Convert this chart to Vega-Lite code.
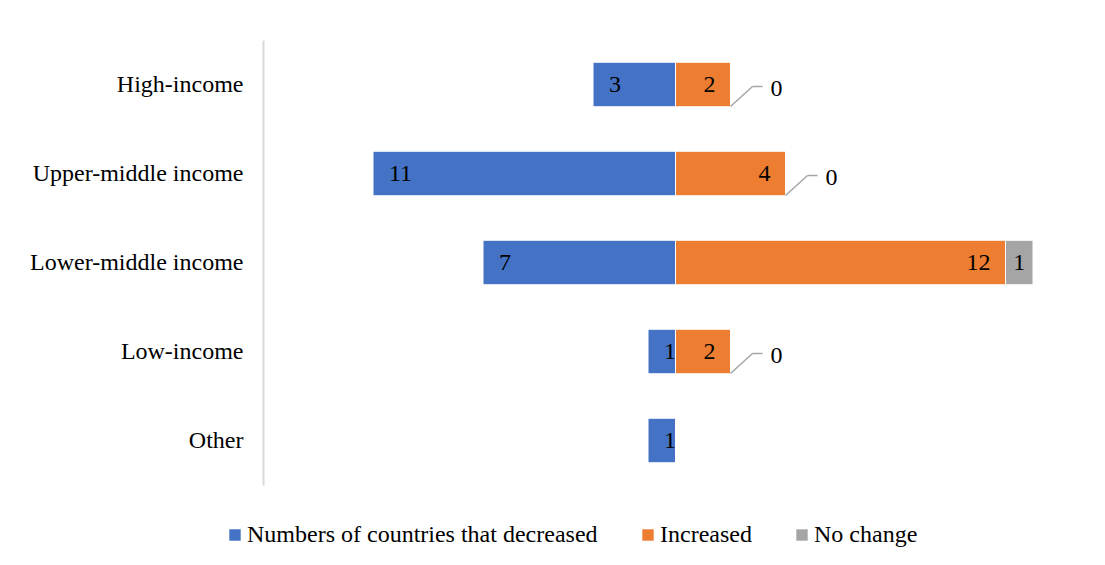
{
  "$schema": "https://vega.github.io/schema/vega-lite/v6.json",
  "width": 825,
  "height": 445,
  "autosize": {"type": "none"},
  "padding": {"left": 263, "top": 40, "right": 17, "bottom": 80},
  "config": {"font": "Liberation Serif", "view": {"stroke": null}},
  "data": {"values": [
    {"cat": "High-income", "series": "Numbers of countries that decreased", "ord": 1, "count": 3},
    {"cat": "High-income", "series": "Increased", "ord": 2, "count": 2},
    {"cat": "High-income", "series": "No change", "ord": 3, "count": 0},
    {"cat": "Upper-middle income", "series": "Numbers of countries that decreased", "ord": 1, "count": 11},
    {"cat": "Upper-middle income", "series": "Increased", "ord": 2, "count": 4},
    {"cat": "Upper-middle income", "series": "No change", "ord": 3, "count": 0},
    {"cat": "Lower-middle income", "series": "Numbers of countries that decreased", "ord": 1, "count": 7},
    {"cat": "Lower-middle income", "series": "Increased", "ord": 2, "count": 12},
    {"cat": "Lower-middle income", "series": "No change", "ord": 3, "count": 1},
    {"cat": "Low-income", "series": "Numbers of countries that decreased", "ord": 1, "count": 1},
    {"cat": "Low-income", "series": "Increased", "ord": 2, "count": 2},
    {"cat": "Low-income", "series": "No change", "ord": 3, "count": 0},
    {"cat": "Other", "series": "Numbers of countries that decreased", "ord": 1, "count": 1}
  ]},
  "transform": [
    {"calculate": "datum.ord === 1 ? -datum.count : datum.count", "as": "value"},
    {"stack": "value", "groupby": ["cat"], "sort": [{"field": "ord", "order": "ascending"}], "as": ["s0", "s1"]},
    {"calculate": "min(datum.s0, datum.s1)", "as": "lo"},
    {"calculate": "max(datum.s0, datum.s1)", "as": "hi"},
    {"calculate": "(datum.lo + datum.hi) / 2", "as": "mid"}
  ],
  "encoding": {
    "y": {
      "field": "cat", "type": "nominal", "title": null,
      "sort": ["High-income", "Upper-middle income", "Lower-middle income", "Low-income", "Other"],
      "scale": {"paddingInner": 0.5, "paddingOuter": 0.25},
      "axis": {"ticks": false, "domainColor": "#d9d9d9", "domainWidth": 2, "labelFont": "Liberation Serif", "labelFontSize": 24, "labelColor": "#000000", "labelPadding": 20, "labelLimit": 0}
    }
  },
  "layer": [
    {
      "mark": {"type": "bar", "stroke": "white", "strokeWidth": 1},
      "encoding": {
        "x": {"field": "lo", "type": "quantitative", "scale": {"domain": [-15, 15], "nice": false, "zero": false}, "axis": null},
        "x2": {"field": "hi"},
        "color": {
          "field": "series", "type": "nominal",
          "scale": {"domain": ["Numbers of countries that decreased", "Increased", "No change"], "range": ["#4472C4", "#ED7D31", "#A5A5A5"]},
          "legend": {"orient": "none", "legendX": -40, "legendY": 483, "direction": "horizontal", "title": null, "symbolType": "square", "symbolSize": 130, "symbolStrokeWidth": 0, "labelFont": "Liberation Serif", "labelFontSize": 24, "labelColor": "#000000", "labelLimit": 0, "columnPadding": 38, "labelOffset": 0}
        }
      }
    },
    {
      "transform": [{"filter": "datum.ord === 1"}],
      "mark": {"type": "text", "align": "left", "baseline": "middle", "dx": 16, "font": "Liberation Serif", "fontSize": 24, "color": "#000000"},
      "encoding": {"x": {"field": "lo", "type": "quantitative"}, "text": {"field": "count"}}
    },
    {
      "transform": [{"filter": "datum.ord === 2"}],
      "mark": {"type": "text", "align": "right", "baseline": "middle", "dx": -15, "font": "Liberation Serif", "fontSize": 24, "color": "#000000"},
      "encoding": {"x": {"field": "hi", "type": "quantitative"}, "text": {"field": "count"}}
    },
    {
      "transform": [{"filter": "datum.ord === 3 && datum.count > 0"}],
      "mark": {"type": "text", "align": "center", "baseline": "middle", "font": "Liberation Serif", "fontSize": 24, "color": "#000000"},
      "encoding": {"x": {"field": "mid", "type": "quantitative"}, "text": {"field": "count"}}
    },
    {
      "transform": [{"filter": "datum.ord === 3 && datum.count === 0"}],
      "mark": {"type": "text", "align": "left", "baseline": "middle", "dx": 40, "dy": 4, "font": "Liberation Serif", "fontSize": 24, "color": "#000000"},
      "encoding": {"x": {"field": "hi", "type": "quantitative"}, "text": {"field": "count"}}
    },
    {
      "transform": [{"filter": "datum.ord === 3 && datum.count === 0"}],
      "mark": {"type": "rule", "color": "#A5A5A5", "strokeWidth": 1.5, "yOffset": 22, "y2Offset": 2, "x2Offset": 22},
      "encoding": {"x": {"field": "hi", "type": "quantitative"}, "x2": {"field": "hi"}, "y2": {"field": "cat"}}
    },
    {
      "transform": [{"filter": "datum.ord === 3 && datum.count === 0"}],
      "mark": {"type": "rule", "color": "#A5A5A5", "strokeWidth": 1.5, "yOffset": 2, "xOffset": 22, "x2Offset": 32},
      "encoding": {"x": {"field": "hi", "type": "quantitative"}, "x2": {"field": "hi"}}
    }
  ]
}
